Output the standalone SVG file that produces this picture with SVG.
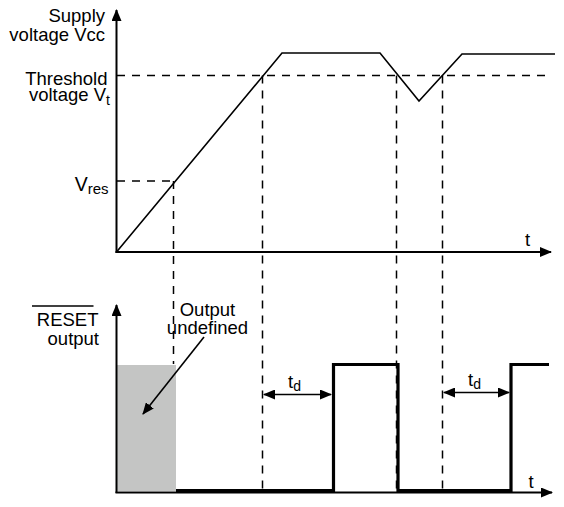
<svg xmlns="http://www.w3.org/2000/svg" width="564" height="507" viewBox="0 0 564 507">
<defs>
<style>
text{font-family:"Liberation Sans",Arial,sans-serif;font-size:18.5px;fill:#000}
.sub{font-size:14px}
.axis{stroke:#000;stroke-width:2;fill:none}
.curve{stroke:#000;stroke-width:1.6;fill:none;stroke-linejoin:miter}
.dash{stroke:#000;stroke-width:1.5;fill:none;stroke-dasharray:8 7}
.sig{stroke:#000;stroke-width:3.2;fill:none;stroke-linejoin:miter}
.thin{stroke:#000;stroke-width:1.6;fill:none}
</style>
<marker id="ah" viewBox="0 0 12 10" refX="11" refY="5" markerWidth="12" markerHeight="10" markerUnits="userSpaceOnUse" orient="auto-start-reverse">
<path d="M0,0 L12,5 L0,10 Z" fill="#000"/>
</marker>
</defs>
<rect width="564" height="507" fill="#fff"/>
<g id="undefined-region">
<rect x="117" y="365" width="59" height="126" fill="#c4c5c4"/>
</g>
<g id="connectors">
<!-- top axes -->
<line class="axis" x1="116.5" y1="253" x2="116.5" y2="10" marker-end="url(#ah)"/>
<line class="axis" x1="115.5" y1="252" x2="551" y2="252" marker-end="url(#ah)"/>
<!-- bottom axes -->
<line class="axis" x1="116.5" y1="493" x2="116.5" y2="305" marker-end="url(#ah)"/>
<line class="axis" x1="115.5" y1="492.5" x2="552" y2="492.5" marker-end="url(#ah)"/>
<!-- reference dashed lines -->
<line class="dash" x1="117" y1="75.5" x2="546" y2="75.5"/>
<line class="dash" x1="117" y1="181" x2="174" y2="181"/>
<line class="dash" x1="173.5" y1="181" x2="173.5" y2="364"/>
<line class="dash" x1="262.5" y1="75.5" x2="262.5" y2="490"/>
<line class="dash" x1="396.5" y1="75.5" x2="396.5" y2="490"/>
<line class="dash" x1="442.5" y1="75.5" x2="442.5" y2="490"/>
<!-- supply voltage curve -->
<polyline class="curve" points="116.5,252 282,53 380,53 419,101 462,54 555,54"/>
<!-- RESET output signal -->
<polyline class="sig" points="176,490.5 333.5,490.5 333.5,364.5 398,364.5 398,490.5 511,490.5 511,364.5 549,364.5"/>
<!-- td arrows -->
<line class="thin" x1="264" y1="394.5" x2="331" y2="394.5" marker-start="url(#ah)" marker-end="url(#ah)"/>
<line class="thin" x1="444" y1="392.5" x2="509" y2="392.5" marker-start="url(#ah)" marker-end="url(#ah)"/>
<!-- output undefined pointer -->
<line class="thin" x1="204" y1="337" x2="143" y2="414" marker-end="url(#ah)"/>
<!-- RESET overbar -->
<line x1="32" y1="306" x2="93.5" y2="306" stroke="#000" stroke-width="1.5"/>
</g>
<g id="label-supply">
<text x="105" y="22" text-anchor="end">Supply</text>
<text x="105" y="41" text-anchor="end">voltage Vcc</text>
</g>
<g id="label-threshold">
<text x="107.5" y="84.5" text-anchor="end">Threshold</text>
<text x="110" y="101" text-anchor="end">voltage V<tspan class="sub" dy="4">t</tspan></text>
</g>
<g id="label-vres">
<text x="108.5" y="191" text-anchor="end" style="font-size:19.5px">V<tspan class="sub" dy="2.5" style="font-size:15px">res</tspan></text>
</g>
<g id="label-reset">
<text x="98.5" y="326" text-anchor="end">RESET</text>
<text x="99" y="345" text-anchor="end">output</text>
</g>
<g id="label-undefined">
<text x="207.5" y="315.5" text-anchor="middle">Output</text>
<text x="207.5" y="334" text-anchor="middle">undefined</text>
</g>
<g id="label-td1">
<text x="288" y="387.5">t<tspan class="sub" dy="3">d</tspan></text>
</g>
<g id="label-td2">
<text x="468" y="386">t<tspan class="sub" dy="3">d</tspan></text>
</g>
<g id="label-t">
<text x="525" y="245.5">t</text>
<text x="528.5" y="488">t</text>
</g>
</svg>
